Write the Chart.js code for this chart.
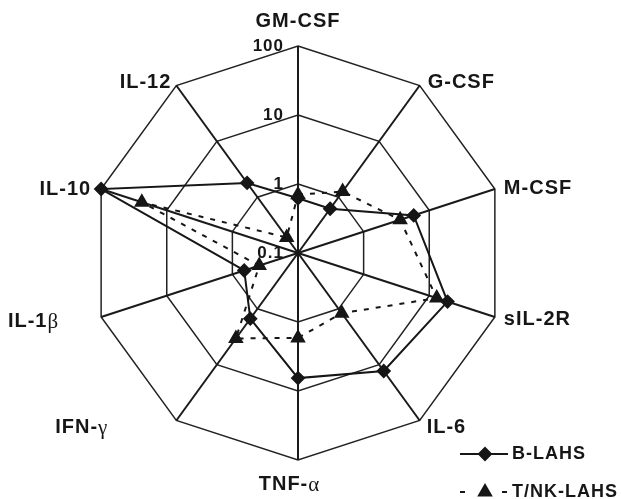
<!DOCTYPE html>
<html><head><meta charset="utf-8">
<script src="https://cdn.jsdelivr.net/npm/chart.js@4.4.0/dist/chart.umd.min.js"></script>
<style>html,body{margin:0;padding:0;background:#fff;}canvas{display:block;}</style>
</head><body>
<canvas id="c" width="621" height="499"></canvas>
<script>
// ---- data ----
const categories = ['GM-CSF','G-CSF','M-CSF','sIL-2R','IL-6','TNF-α','IFN-γ','IL-1β','IL-10','IL-12'];
const bLAHS   = [0.62, 0.62, 5.8, 19, 13, 6.5, 1.5, 0.66, 100, 1.8];
const tnkLAHS = [0.7, 1.26, 3.6, 13, 1.2, 1.7, 3.4, 0.39, 24, 0.19];
const tickValues = [0.1, 1, 10, 100];
const seriesNames = ['B-LAHS', 'T/NK-LAHS'];

// log10 scale mapped onto a linear radial axis: 0.1 -> 0, 100 -> 3
const toPlot = v => Math.log10(v) + 1;

const labelLayout = [
  {dx: 0,   dy: -25, align: 'center'},
  {dx: 8,   dy: -3,  align: 'left'},
  {dx: 9,   dy: -1,  align: 'left'},
  {dx: 9,   dy: 3,   align: 'left'},
  {dx: 7,   dy: 7,   align: 'left'},
  {dx: -9,  dy: 24,  align: 'center'},
  {dx: -69, dy: 7,   align: 'right'},
  {dx: -43, dy: 5,   align: 'right'},
  {dx: -10, dy: 0,   align: 'right'},
  {dx: -5,  dy: -3,  align: 'right'}
];

const INK = '#161616';
const BOLD = 'bold 20px "Liberation Sans", Arial, sans-serif';
const GREEK = '21px "Liberation Serif", "DejaVu Serif", serif';

function drawMixed(ctx, text, x, y, align) {
  const m = text.match(/^(.*?)([α-ωΑ-Ω]*)$/);
  const main = m[1], greek = m[2];
  ctx.letterSpacing = '1px';
  ctx.font = BOLD;
  const w1 = ctx.measureText(main).width;
  ctx.letterSpacing = '0px';
  ctx.font = GREEK;
  const w2 = greek ? ctx.measureText(greek).width : 0;
  const total = w1 + w2;
  let sx = align === 'left' ? x : align === 'right' ? x - total : x - total / 2;
  ctx.textAlign = 'left';
  ctx.textBaseline = 'middle';
  ctx.fillStyle = INK;
  ctx.letterSpacing = '1px';
  ctx.font = BOLD;
  ctx.fillText(main, sx, y);
  if (greek) {
    ctx.letterSpacing = '0px';
    ctx.font = GREEK;
    ctx.fillText(greek, sx + w1, y + 1);
  }
  ctx.letterSpacing = '0px';
}

const decorPlugin = {
  id: 'decor',
  afterDatasetsDraw(chart) {
    const ctx = chart.ctx;
    const s = chart.scales.r;
    ctx.save();
    // point labels
    categories.forEach((lab, i) => {
      const p = s.getPointPositionForValue(i, s.max);
      const L = labelLayout[i];
      drawMixed(ctx, lab, p.x + L.dx, p.y + L.dy, L.align);
    });
    // tick labels (log values) left of the top axis
    ctx.font = 'bold 17px "Liberation Sans", Arial, sans-serif';
    ctx.letterSpacing = '1px';
    ctx.textAlign = 'right';
    ctx.textBaseline = 'middle';
    ctx.fillStyle = INK;
    tickValues.forEach(v => {
      const p = s.getPointPositionForValue(0, toPlot(v));
      ctx.fillText(String(v), s.xCenter - 14, p.y);
    });
    ctx.letterSpacing = '0px';
    // legend
    const items = chart.data.datasets;
    const ly = [454, 492];
    items.forEach((ds, k) => {
      const y = ly[k];
      ctx.strokeStyle = INK;
      ctx.lineWidth = 2;
      ctx.setLineDash(ds.borderDash || []);
      ctx.beginPath();
      if (ds.borderDash) {
        ctx.moveTo(460, y); ctx.lineTo(467, y);
        ctx.moveTo(502, y); ctx.lineTo(508, y);
      } else {
        ctx.moveTo(460, y); ctx.lineTo(508, y);
      }
      ctx.stroke();
      ctx.setLineDash([]);
      Chart.helpers.drawPoint(ctx, {pointStyle: ds.pointStyle, radius: ds.pointRadius, borderWidth: 1, rotation: 0}, 485, y);
      ctx.fillStyle = INK;
      ctx.fill();
      ctx.font = 'bold 18px "Liberation Sans", Arial, sans-serif';
      ctx.letterSpacing = '1px';
      ctx.textAlign = 'left';
      ctx.textBaseline = 'middle';
      ctx.fillText(ds.label, 512, y);
      ctx.letterSpacing = '0px';
    });
    ctx.restore();
  }
};

new Chart(document.getElementById('c'), {
  type: 'radar',
  data: {
    labels: categories,
    datasets: [
      {
        label: seriesNames[0],
        data: bLAHS.map(toPlot),
        borderColor: INK,
        backgroundColor: INK,
        borderWidth: 2,
        pointStyle: 'rectRot',
        pointRadius: 6,
        pointBackgroundColor: INK,
        pointBorderColor: INK,
        fill: false,
        tension: 0
      },
      {
        label: seriesNames[1],
        data: tnkLAHS.map(toPlot),
        borderColor: INK,
        backgroundColor: INK,
        borderWidth: 2,
        borderDash: [5, 7],
        pointStyle: 'triangle',
        pointRadius: 7,
        pointBackgroundColor: INK,
        pointBorderColor: INK,
        fill: false,
        tension: 0
      }
    ]
  },
  options: {
    responsive: false,
    animation: false,
    devicePixelRatio: 1,
    plugins: { legend: { display: false }, tooltip: { enabled: false } },
    scales: {
      r: {
        min: 0,
        max: 3,
        ticks: { display: false, stepSize: 1 },
        pointLabels: { display: false },
        grid: { color: '#222', lineWidth: 1.5 },
        angleLines: { color: '#1a1a1a', lineWidth: 2 },
        afterFit(scale) {
          scale.xCenter = 298;
          scale.yCenter = 253;
          scale.drawingArea = 207;
        }
      }
    }
  },
  plugins: [decorPlugin]
});
</script>
</body></html>
